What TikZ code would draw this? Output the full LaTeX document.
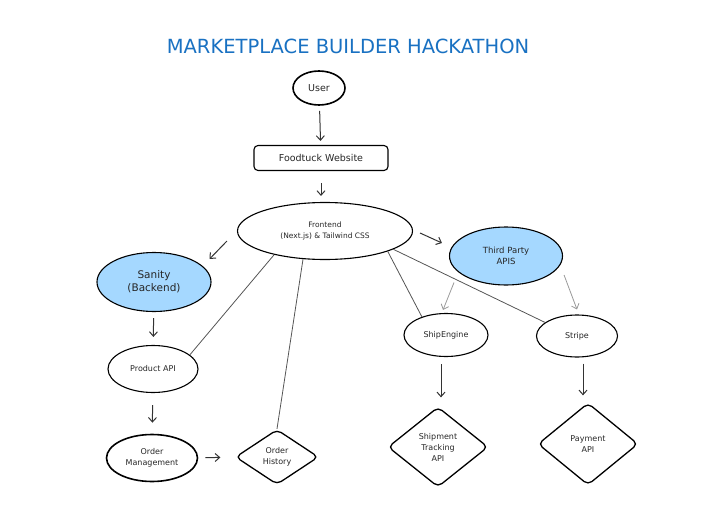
\documentclass[tikz,border=0pt]{standalone}
\usepackage{fontspec}
\setmainfont{DejaVu Sans}
\usepackage{xcolor}
\usetikzlibrary{arrows.meta, shapes.geometric}
\definecolor{skyblue}{HTML}{A5D8FF}
\definecolor{titleblue}{HTML}{1971C2}
\definecolor{inkgrey}{HTML}{555555}

\begin{document}
\begin{tikzpicture}[x=1pt, y=-1pt, >={Straight Barb[length=4.5pt, width=8pt]}]
        \useasboundingbox (0,0) rectangle (717,511);
        \tikzstyle{OvalStyle} = [draw, ellipse, line width=1.1pt, inner sep=0pt, align=center, text=black!85, font=\fontsize{8}{10.5}\selectfont]
        \tikzstyle{BlueStyle} = [OvalStyle, fill=skyblue, font=\fontsize{8.5}{11}\selectfont]
        \tikzstyle{DiamondStyle} = [draw, diamond, rounded corners=5pt, line width=1.3pt, inner sep=0pt, align=center, text=black!85, font=\fontsize{8}{11}\selectfont]
        \tikzstyle{ArrowStyle} = [->, line width=1pt, black!80]
        \tikzstyle{GreyArrowStyle} = [->, line width=0.8pt, black!40]
        \tikzstyle{LinkStyle} = [line width=0.8pt, inkgrey]
        \node[text=titleblue, font=\fontsize{19.5}{22}\selectfont] (Title) at (348,46) {MARKETPLACE BUILDER HACKATHON};
        \node[OvalStyle, line width=1.6pt, minimum width=52, minimum height=34, font=\fontsize{9.5}{11}\selectfont] (User) at (319,88) {User};
        \node[draw, rounded corners=4pt, line width=1.1pt, minimum width=134, minimum height=25, text=black!85, font=\fontsize{9.5}{11}\selectfont] (Website) at (321,158) {Foodtuck Website};
        \node[OvalStyle, minimum width=175, minimum height=57, font=\fontsize{7.5}{10.5}\selectfont] (Frontend) at (325,231) {Frontend\\(Next.js) \& Tailwind CSS};
        \node[BlueStyle, minimum width=114, minimum height=59, font=\fontsize{10.5}{13}\selectfont] (Sanity) at (154,282) {Sanity\\(Backend)};
        \node[BlueStyle, minimum width=113, minimum height=58] (ThirdParty) at (506,256) {Third Party\\APIS};
        \node[OvalStyle, minimum width=90, minimum height=47] (ProductAPI) at (153,369) {Product API};
        \node[OvalStyle, line width=1.6pt, minimum width=91, minimum height=47] (OrderMgmt) at (152,458) {Order\\Management};
        \node[DiamondStyle, minimum width=83, minimum height=55] (OrderHistory) at (277,457) {Order\\History};
        \node[OvalStyle, minimum width=84, minimum height=43] (ShipEngine) at (446,335) {ShipEngine};
        \node[OvalStyle, minimum width=81, minimum height=42] (Stripe) at (577,336) {Stripe};
        \node[DiamondStyle, minimum width=100, minimum height=80] (Tracking) at (438,447) {Shipment\\Tracking\\API};
        \node[DiamondStyle, minimum width=100, minimum height=82] (Payment) at (588,444) {Payment\\API};
        \draw[ArrowStyle, shorten <=5pt, shorten >=4pt] (User) -- (Website);
        \draw[ArrowStyle, shorten <=12pt, shorten >=6pt] (Website.south) -- (Website.south |- Frontend.north);
        \draw[ArrowStyle] ([xshift=-10pt, yshift=-10pt]Frontend.west) -- ([xshift=-2pt, yshift=23pt]Sanity.east);
        \draw[ArrowStyle] ([xshift=7pt, yshift=-2pt]Frontend.east) -- ([xshift=-7pt, yshift=13pt]ThirdParty.west);
        \draw[ArrowStyle, shorten <=6pt, shorten >=8pt] (Sanity) -- (ProductAPI);
        \draw[ArrowStyle, shorten <=12pt, shorten >=11pt] (ProductAPI) -- (OrderMgmt);
        \draw[ArrowStyle, shorten <=7pt, shorten >=15pt] (OrderMgmt) -- (OrderHistory);
        \draw[ArrowStyle, shorten <=7pt, shorten >=9pt] ([xshift=-5pt]ShipEngine.south) -- ([xshift=3pt]Tracking.north);
        \draw[ArrowStyle, shorten <=6pt, shorten >=7pt] ([xshift=6pt]Stripe.south) -- ([xshift=-5pt]Payment.north);
        \draw[GreyArrowStyle] ([xshift=-52pt, yshift=3pt]ThirdParty.south) -- ([xshift=-3pt, yshift=3pt]ShipEngine.north);
        \draw[GreyArrowStyle] ([xshift=1pt, yshift=-19pt]ThirdParty.east) -- ([yshift=5pt]Stripe.north);
        \draw[LinkStyle] (Frontend.205) -- (ProductAPI.21);
        \draw[LinkStyle] (Frontend.232) -- (OrderHistory.north);
        \draw[LinkStyle] (Frontend.342) -- (ShipEngine.143);
        \draw[LinkStyle] (Frontend.345) -- (Stripe.157);
\end{tikzpicture}
\end{document}
